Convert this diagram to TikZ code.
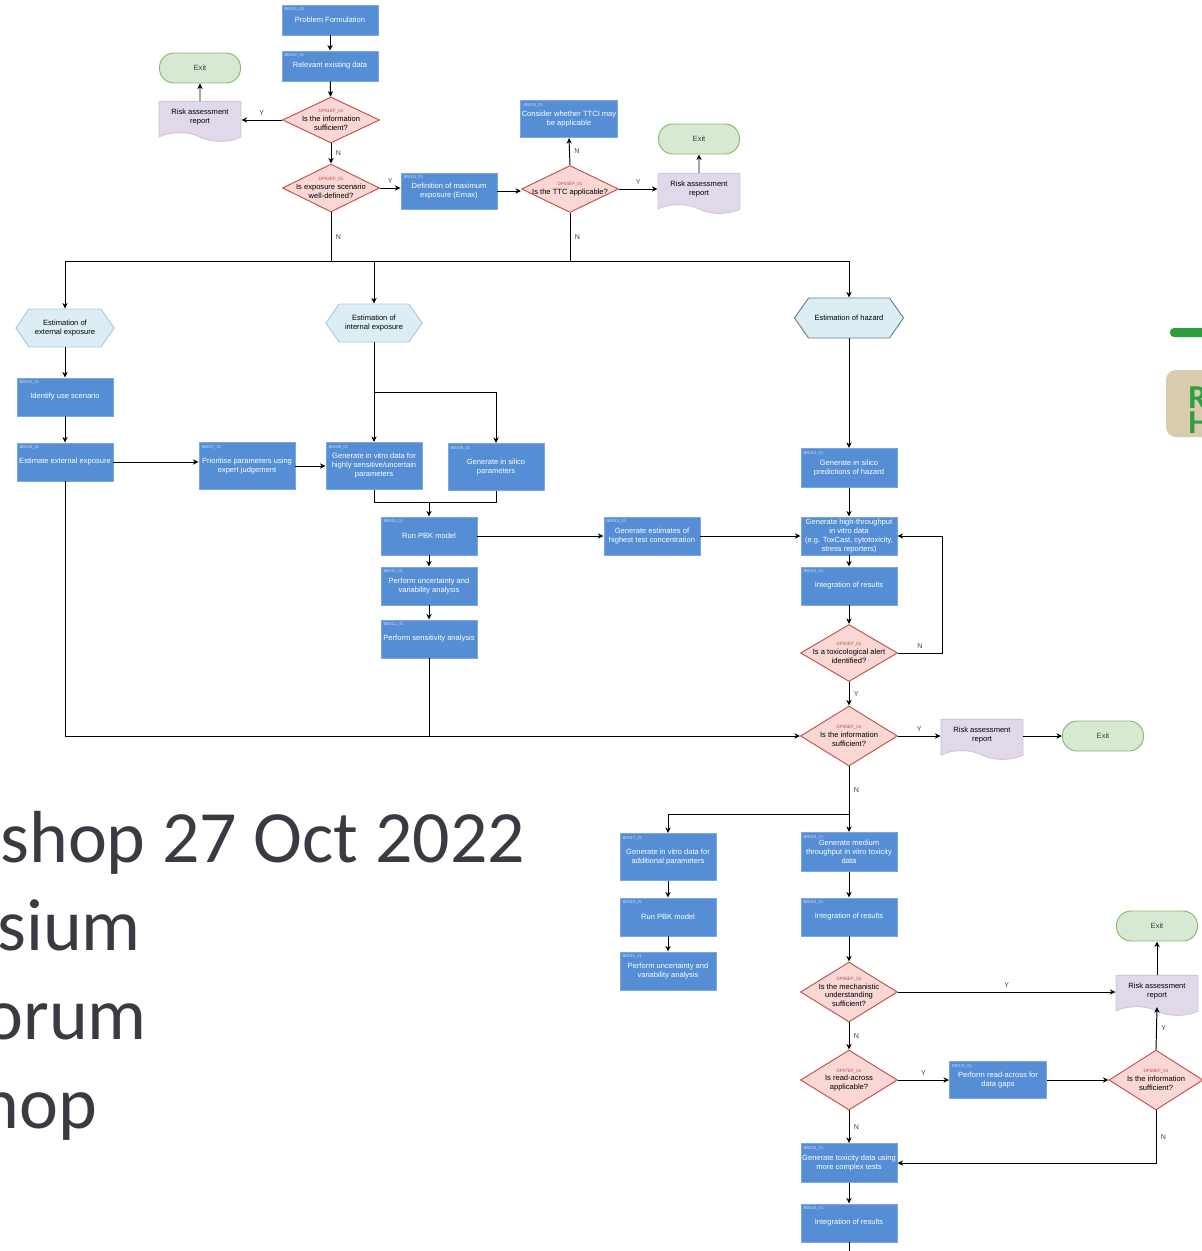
\documentclass[tikz,border=0pt]{standalone}
\usepackage{fontspec}
\setmainfont{Liberation Sans}
\newfontfamily\slidefont{Carlito}
\usetikzlibrary{arrows.meta, shapes.geometric, shapes.symbols}

\definecolor{bbfill}{HTML}{558ED5}
\definecolor{bbline}{HTML}{7EA6E0}
\definecolor{bbidcol}{HTML}{C9DAF2}
\definecolor{dpfill}{HTML}{F8D7D5}
\definecolor{dpline}{HTML}{C9514D}
\definecolor{dpidcol}{HTML}{B85450}
\definecolor{docfill}{HTML}{E1D8EA}
\definecolor{docline}{HTML}{D2C6DE}
\definecolor{exitfill}{HTML}{D8E9D3}
\definecolor{exitline}{HTML}{8DB870}
\definecolor{hexfill}{HTML}{DCEEF4}
\definecolor{hexline}{HTML}{A9C9E6}
\definecolor{hexdark}{HTML}{6F7F8F}
\definecolor{slidetext}{HTML}{3A3A42}
\definecolor{slidegreen}{HTML}{2E9E3E}
\definecolor{slidetan}{HTML}{D8CBAE}

\newcommand{\dpid}[1]{{\fontsize{2.6}{3.2}\selectfont\color{dpidcol}#1}}

\begin{document}
\begin{tikzpicture}[x=0.02cm, y=-0.02cm, >={Stealth[length=3.2pt,width=3pt]}, line width=0.55pt,
		bb/.style={rectangle, draw=bbline, fill=bbfill, text=white, minimum width=1.92cm, minimum height=0.76cm, align=center, inner sep=0.5pt, font=\fontsize{4.3}{5.1}\selectfont},
		bbtall/.style={bb, minimum height=0.94cm},
		bbid/.style={anchor=north west, inner sep=1.5pt, text=bbidcol, font=\fontsize{2.4}{3}\selectfont},
		dp/.style={diamond, draw=dpline, fill=dpfill, minimum width=1.94cm, minimum height=1.18cm, inner sep=0pt},
		dptext/.style={align=center, inner sep=0pt, text=black, font=\fontsize{4.3}{5}\selectfont},
		reportdoc/.style={tape, tape bend top=none, tape bend bottom=out and in, draw=docline, fill=docfill, minimum width=1.64cm, minimum height=0.8cm, align=center, font=\fontsize{4.3}{5.1}\selectfont},
		exitbox/.style={rectangle, rounded corners=0.29cm, draw=exitline, fill=exitfill, minimum width=1.62cm, minimum height=0.6cm, text=black!75, font=\fontsize{4.3}{5.1}\selectfont},
		hexnode/.style={signal, signal to=east and west, signal pointer angle=110, draw=hexline, fill=hexfill, minimum width=1.92cm, minimum height=0.76cm, align=center, font=\fontsize{4.3}{5.1}\selectfont},
		yn/.style={font=\fontsize{4}{5}\selectfont, text=black!75, inner sep=2.5pt},
		slidetxt/.style={anchor=base west, inner sep=0pt, text=slidetext, font=\slidefont\fontsize{42}{50}\selectfont}]
	\useasboundingbox (0,0) rectangle (1202,1251);

	\node[slidetxt] (line1) at (0,862) {shop 27 Oct 2022};
	\node[slidetxt] (line2) at (-3,950) {sium};
	\node[slidetxt] (line3) at (-16,1039) {orum};
	\node[slidetxt] (line4) at (-20,1128) {hop};
	\fill[slidegreen, rounded corners=0.08cm] (1170,328) rectangle (1230,337);
	\fill[slidetan, rounded corners=0.2cm] (1166,370) rectangle (1240,437);
	\node[anchor=north west, inner sep=0pt, align=left, text=slidegreen, font=\slidefont\bfseries\fontsize{19}{14.2}\selectfont] (letRH) at (1188,386) {R\\H};

	\node[bb, minimum height=0.6cm, label={[bbid]north west:BB001\_01}] (bb1) at (330,20) {Problem Formulation};
	\node[bb, minimum height=0.6cm, label={[bbid]north west:BB002\_01}] (bb2) at (330,66) {Relevant existing data};
	\node[dp, minimum height=0.92cm, label={[dptext]center:{\dpid{DP01EF\_01}\\Is the information\\sufficient?}}] (dp1) at (331,120) {};
	\node[reportdoc] (rep1) at (200,117) {Risk assessment\\report};
	\node[exitbox] (exit1) at (200,68) {Exit};
	\node[dp, minimum height=0.96cm, label={[dptext]center:{\dpid{DP02EF\_01}\\Is exposure scenario\\well-defined?}}] (dp2) at (331,188) {};
	\node[bb, minimum height=0.72cm, label={[bbid]north west:BB003\_01}] (bb3) at (449,191) {Definition of maximum\\exposure (Emax)};
	\node[dp, minimum height=0.94cm, label={[dptext]center:{\dpid{DP03EF\_01}\\Is the TTC applicable?}}] (dp3) at (570,189) {};
	\node[bb, minimum height=0.74cm, label={[bbid]north west:BB004\_01}] (bb4) at (569,119) {Consider whether TTCI may\\be applicable};
	\node[reportdoc] (rep2) at (699,189) {Risk assessment\\report};
	\node[exitbox] (exit2) at (699,139) {Exit};

	\node[hexnode] (hexext) at (65,328) {Estimation of\\external exposure};
	\node[hexnode] (hexint) at (374,323) {Estimation of\\internal exposure};
	\node[hexnode, minimum width=2.18cm, minimum height=0.8cm, draw=hexdark] (hexhaz) at (849,318) {Estimation of hazard};
	\coordinate (busw) at (65,261);
	\coordinate (buse) at (849,261);
	\coordinate (intsplit) at (374,392);
	\coordinate (join) at (429,502);

	\node[bb, label={[bbid]north west:BB005\_01}] (bb5) at (65,397) {Identify use scenario};
	\node[bb, label={[bbid]north west:BB006\_01}] (bb6) at (65,462) {Estimate external exposure};
	\node[bbtall, label={[bbid]north west:BB007\_01}] (bb7) at (247,466) {Prioritise parameters using\\expert judgement};
	\node[bbtall, label={[bbid]north west:BB008\_01}] (bb8) at (374,466) {Generate in vitro data for\\highly sensitive/uncertain\\parameters};
	\node[bbtall, label={[bbid]north west:BB009\_01}] (bb9) at (496,467) {Generate in silico\\parameters};
	\node[bb, label={[bbid]north west:BB010\_01}] (bb10) at (429,536) {Run PBK model};
	\node[bb, label={[bbid]north west:BB011\_01}] (bb11) at (429,586) {Perform uncertainty and\\variability analysis};
	\node[bb, label={[bbid]north west:BB012\_01}] (bb12) at (429,639) {Perform sensitivity analysis};
	\node[bb, label={[bbid]north west:BB013\_01}] (bb13) at (652,536) {Generate estimates of\\highest test concentration};

	\node[bb, minimum height=0.78cm, label={[bbid]north west:BB014\_01}] (bb14) at (849,468) {Generate in silico\\predictions of hazard};
	\node[bb] (bb15) at (849,536) {Generate high-throughput\\in vitro data\\(e.g. ToxCast, cytotoxicity,\\stress reporters)};
	\node[bb, label={[bbid]north west:BB016\_01}] (bb16) at (849,586) {Integration of results};
	\node[dp, minimum height=1.14cm, label={[dptext]center:{\dpid{DP04EF\_01}\\Is a toxicological alert\\identified?}}] (dp4) at (849,653) {};
	\node[dp, minimum height=1.2cm, label={[dptext]center:{\dpid{DP05EF\_01}\\Is the information\\sufficient?}}] (dp5) at (849,736) {};
	\node[reportdoc] (rep3) at (982,735) {Risk assessment\\report};
	\node[exitbox] (exit3) at (1103,736) {Exit};
	\coordinate (split) at (849,814);

	\node[bbtall, label={[bbid]north west:BB017\_01}] (bb17) at (668,857) {Generate in vitro data for\\additional parameters};
	\node[bb, label={[bbid]north west:BB010\_01}] (bb10b) at (668,917) {Run PBK model};
	\node[bb, label={[bbid]north west:BB011\_01}] (bb11b) at (668,971) {Perform uncertainty and\\variability analysis};
	\node[bb, minimum height=0.78cm, label={[bbid]north west:BB018\_01}] (bb18) at (849,852) {Generate medium\\throughput in vitro toxicity\\data};
	\node[bb, label={[bbid]north west:BB016\_01}] (bb16b) at (849,917) {Integration of results};
	\node[dp, minimum height=1.2cm, label={[dptext]center:{\dpid{DP06EF\_01}\\Is the mechanistic\\understanding\\sufficient?}}] (dp6) at (849,992) {};
	\node[reportdoc] (rep4) at (1157,991) {Risk assessment\\report};
	\node[exitbox] (exit4) at (1157,926) {Exit};
	\node[dp, minimum height=1.2cm, label={[dptext]center:{\dpid{DP07EF\_01}\\Is read-across\\applicable?}}] (dp7) at (849,1080) {};
	\node[bb, minimum width=1.94cm, minimum height=0.74cm, label={[bbid]north west:BB019\_01}] (bb19) at (998,1080) {Perform read-across for\\data gaps};
	\node[dp, minimum width=1.88cm, minimum height=1.2cm, label={[dptext]center:{\dpid{DP08EF\_01}\\Is the information\\sufficient?}}] (dp8) at (1156,1080) {};
	\node[bb, minimum height=0.78cm, label={[bbid]north west:BB020\_01}] (bb20) at (849,1163) {Generate toxicity data using\\more complex tests};
	\node[bb, label={[bbid]north west:BB016\_01}] (bb16c) at (849,1223) {Integration of results};
	\coordinate (tail) at (849,1262);

	\draw[->] (bb1) -- (bb2);
	\draw[->] (bb2) -- (dp1);
	\draw[->] (dp1.west) -- node[yn, above] {Y} (dp1.west -| rep1.east);
	\draw[->] (rep1) -- (exit1);
	\draw[->] (dp1.south) -- node[yn, right] {N} (dp2.north);
	\draw[->] (dp2.east) -- node[yn, above] {Y} (dp2.east -| bb3.west);
	\draw[->] (bb3.east) -- (bb3.east -| dp3.west);
	\draw[->] (dp3.north) -- node[yn, right] {N} (bb4.south);
	\draw[->] (dp3.east) -- node[yn, above] {Y} (dp3.east -| rep2.west);
	\draw[->] (rep2) -- (exit2);
	\draw (dp2.south) -- node[yn, right] {N} (dp2.south |- busw);
	\draw (dp3.south) -- node[yn, right] {N} (dp3.south |- busw);
	\draw (busw) -- (buse);
	\draw[->] (busw) -- (hexext.north);
	\draw[->] (hexint.north |- busw) -- (hexint.north);
	\draw[->] (buse) -- (hexhaz.north);

	\draw[->] (bb5.north |- hexext.south) -- (bb5.north);
	\draw[->] (bb5) -- (bb6);
	\draw[->] (bb6.east) -- (bb6.east -| bb7.west);
	\draw[->] (bb7.east) -- (bb7.east -| bb8.west);
	\draw[->] (hexint.south) -- (bb8.north);
	\draw[->] (intsplit) -| (bb9.north);
	\draw (bb8.south) |- (bb9.south |- join) -- (bb9.south);
	\draw[->] (join) -- (bb10.north);
	\draw[->] (bb10) -- (bb11);
	\draw[->] (bb11) -- (bb12);
	\draw[->] (bb10.east) -- (bb13.west);
	\draw[->] (bb13.east) -- (bb15.west);

	\draw[->] (bb14.north |- hexhaz.south) -- (bb14.north);
	\draw[->] (bb14) -- (bb15);
	\draw[->] (bb15) -- (bb16);
	\draw[->] (bb16) -- (dp4);
	\draw[->] (dp4.east) -- node[yn, above] {N} ++(44,0) |- (bb15.east);
	\draw[->] (dp4.south) -- node[yn, right] {Y} (dp5.north);
	\draw[->] (bb6.south) |- (dp5.west);
	\draw (bb12.south) -- (bb12.south |- dp5.west);
	\draw[->] (dp5.east) -- node[yn, above] {Y} (dp5.east -| rep3.west);
	\draw[->] (rep3.east |- exit3.west) -- (exit3.west);

	\draw (dp5.south) -- node[yn, right] {N} (split);
	\draw[->] (split) -| (bb17.north);
	\draw[->] (split) -- (bb18.north);
	\draw[->] (bb17) -- (bb10b);
	\draw[->] (bb10b) -- (bb11b);
	\draw[->] (bb18) -- (bb16b);
	\draw[->] (bb16b) -- (dp6);
	\draw[->] (dp6.east) -- node[yn, above] {Y} (dp6.east -| rep4.west);
	\draw[->] (rep4.north) -- (exit4.south);
	\draw[->] (dp6.south) -- node[yn, right] {N} (dp7.north);
	\draw[->] (dp7.east) -- node[yn, above] {Y} (bb19.west);
	\draw[->] (bb19.east) -- (dp8.west);
	\draw[->] (dp8.north) -- node[yn, right] {Y} (rep4.south);
	\draw[->] (dp8.south) -- node[yn, right] {N} (dp8.south |- bb20.east) -- (bb20.east);
	\draw[->] (dp7.south) -- node[yn, right] {N} (bb20.north);
	\draw[->] (bb20) -- (bb16c);
	\draw (bb16c.south) -- (tail);
\end{tikzpicture}
\end{document}
